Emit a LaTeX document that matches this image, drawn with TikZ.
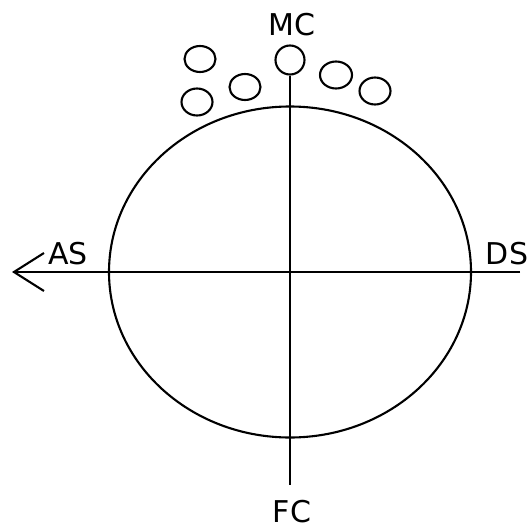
\documentclass[tikz,border=0pt]{standalone}
\usepackage{fontspec}
\setmainfont{DejaVu Sans}
\usetikzlibrary{arrows.meta,shapes.geometric}
\begin{document}
\begin{tikzpicture}[x=1pt,y=-1pt,
  line/.style={line width=2.1pt,black},
  lbl/.style={font=\fontsize{30}{32}\selectfont,inner sep=0pt},
  bub/.style={draw,line width=2.1pt,ellipse,inner sep=0pt}]
\useasboundingbox (0,0) rectangle (529,530);
% main ellipse
\node[draw,line width=2.1pt,ellipse,minimum width=362pt,minimum height=331pt,inner sep=0pt] (body) at (290,272) {};
% small circles
\node[bub,minimum width=29pt,minimum height=29pt] (mcc) at (290,60) {};
\node[bub,minimum width=31pt,minimum height=26pt] (b1) at (200,59) {};
\node[bub,minimum width=31pt,minimum height=26pt] (b2) at (245,87) {};
\node[bub,minimum width=31pt,minimum height=27pt] (b3) at (197,102) {};
\node[bub,minimum width=32pt,minimum height=27pt] (b4) at (336,75) {};
\node[bub,minimum width=31pt,minimum height=27pt] (b5) at (375,91) {};
% labels
\node[lbl] (mc) at (292,25) {MC};
\node[lbl] (fc) at (292,512) {FC};
\node[lbl] (as) at (68,254) {AS};
\node[lbl] (ds) at (507,254) {DS};
% axes
\coordinate (vbot) at (290,485);
\coordinate (hr) at (520,272);
\coordinate (hl) at (12,272);
\draw[line] (mcc.south) -- (vbot);
\draw[line,-{Straight Barb[length=30pt,width=38pt,line width=2.1pt]}] (hr) -- (hl);
\end{tikzpicture}
\end{document}
